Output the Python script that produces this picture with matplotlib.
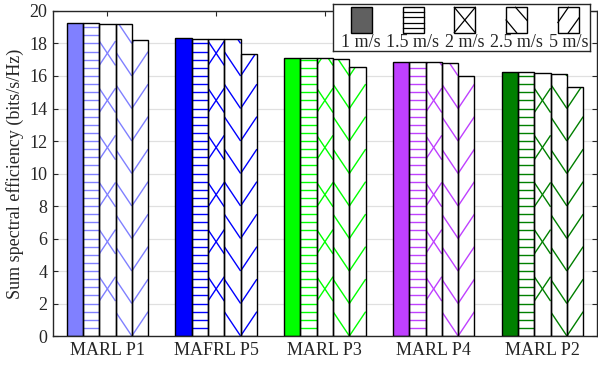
import numpy as np
import matplotlib.pyplot as plt
from matplotlib.patches import Rectangle

plt.rcParams['font.family'] = ['Liberation Serif', 'DejaVu Serif']

methods = ['MARL P1', 'MAFRL P5', 'MARL P3', 'MARL P4', 'MARL P2']
speeds = ['1 m/s', '1.5 m/s', '2 m/s', '2.5 m/s', '5 m/s']
colors = ['#8080ff', '#0000ff', '#00ff00', '#bf40ff', '#008000']

# one list per speed, one value per method
v_1 = [19.28, 18.32, 17.09, 16.84, 16.23]
v_15 = [19.25, 18.30, 17.09, 16.85, 16.23]
v_2 = [19.22, 18.30, 17.08, 16.84, 16.20]
v_25 = [19.18, 18.26, 17.05, 16.80, 16.12]
v_5 = [18.20, 17.38, 16.54, 16.02, 15.30]
series = [v_1, v_15, v_2, v_25, v_5]

hatches = ['', '-', 'x', '\\', '/']
dark = '#262626'


def hatch_bar(ax, bar, kind, col):
    # hand made sparse hatching, clipped to the bar
    x0 = bar.get_x()
    w = bar.get_width()
    h = bar.get_height()
    x1 = x0 + w
    rise = 1.5  # vertical extent of one stroke across the bar
    segs = []
    if kind == '-':
        for y in np.arange(0.5, h + 0.5, 0.5):
            segs.append(([x0, x1], [y, y]))
    elif kind == '\\':
        for y in np.arange(0, h + 2, 2.0):
            segs.append(([x0, x1], [y + rise, y]))
    elif kind == '/':
        for y in np.arange(0, h + 2, 2.0):
            segs.append(([x0, x1], [y, y + rise]))
    elif kind == 'x':
        for c in np.arange(2.9, h + 3, 2.9):
            segs.append(([x0, x1], [c + rise / 2, c - rise / 2]))
            segs.append(([x0, x1], [c - rise / 2, c + rise / 2]))
    for xs, ys in segs:
        ln, = ax.plot(xs, ys, color=col, lw=1.0, zorder=2.5, solid_capstyle='butt')
        ln.set_clip_path(bar)


fig = plt.figure(figsize=(5.98, 3.69), dpi=100)
ax = fig.add_axes([0.0886, 0.0894, 0.9094, 0.8808])

x = np.arange(1, len(methods) + 1)
bw = 0.15
for i, vals in enumerate(series):
    pos = x + (i - 2) * bw
    faces = colors if hatches[i] == '' else ['white'] * len(vals)
    bars = ax.bar(pos, vals, bw, color=faces, edgecolor='none', zorder=2)
    ax.bar(pos, vals, bw, fill=False, edgecolor='black', lw=1.0, zorder=3)
    if hatches[i]:
        for b, col in zip(bars, colors):
            hatch_bar(ax, b, hatches[i], col)

ax.set_xlim(0.5, 5.5)
ax.set_ylim(0, 20)
ax.set_yticks(np.arange(0, 21, 2))
ax.set_xticks(x)
ax.set_xticklabels(methods)
ax.yaxis.grid(True, color='#e0e0e0', lw=0.9)
ax.set_axisbelow(True)
ax.tick_params(direction='in', top=True, right=True, length=3.5, width=0.8,
               colors=dark, labelsize=13, pad=4)
for sp in ax.spines.values():
    sp.set_color(dark)
    sp.set_linewidth(1.0)
ax.set_ylabel('Sum spectral efficiency (bits/s/Hz)', fontsize=13, color=dark, labelpad=4)

# legend: handles above labels, drawn in a small axes in pixel units
lg = fig.add_axes([333 / 598, 1 - 50.7 / 369, 257 / 598, 46.7 / 369])
lg.set_xlim(0, 257)
lg.set_ylim(0, 46.7)
lg.set_xticks([])
lg.set_yticks([])
for sp in lg.spines.values():
    sp.set_color(dark)
    sp.set_linewidth(1.0)
hw, hh, hy = 21, 25.4, 18
for i, lab in enumerate(speeds):
    hx = 17.7 + i * 51.8
    face = '#606060' if i == 0 else 'white'
    lg.add_patch(Rectangle((hx, hy), hw, hh, facecolor=face, edgecolor='none', zorder=1))
    lg.add_patch(Rectangle((hx, hy), hw, hh, fill=False, edgecolor='black', lw=1.0, zorder=3))
    k = hatches[i]
    if k == '-':
        for f in (0.2, 0.4, 0.6, 0.8):
            lg.plot([hx, hx + hw], [hy + f * hh] * 2, color='black', lw=0.9, zorder=2)
    elif k == 'x':
        lg.plot([hx, hx + hw], [hy, hy + hh], color='black', lw=0.9, zorder=2)
        lg.plot([hx, hx + hw], [hy + hh, hy], color='black', lw=0.9, zorder=2)
    elif k == '\\':
        lg.plot([hx + 0.45 * hw, hx + hw], [hy + hh, hy + 0.48 * hh], color='black', lw=0.9, zorder=2)
        lg.plot([hx, hx + 0.5 * hw], [hy + 0.5 * hh, hy], color='black', lw=0.9, zorder=2)
    elif k == '/':
        lg.plot([hx, hx + 0.5 * hw], [hy + 0.4 * hh, hy + hh], color='black', lw=0.9, zorder=2)
        lg.plot([hx + 0.5 * hw, hx + hw], [hy, hy + 0.58 * hh], color='black', lw=0.9, zorder=2)
    lg.text(hx + hw / 2, 8.5, lab, ha='center', va='center', fontsize=13, color=dark)

fig.savefig('out.png', dpi=100)
